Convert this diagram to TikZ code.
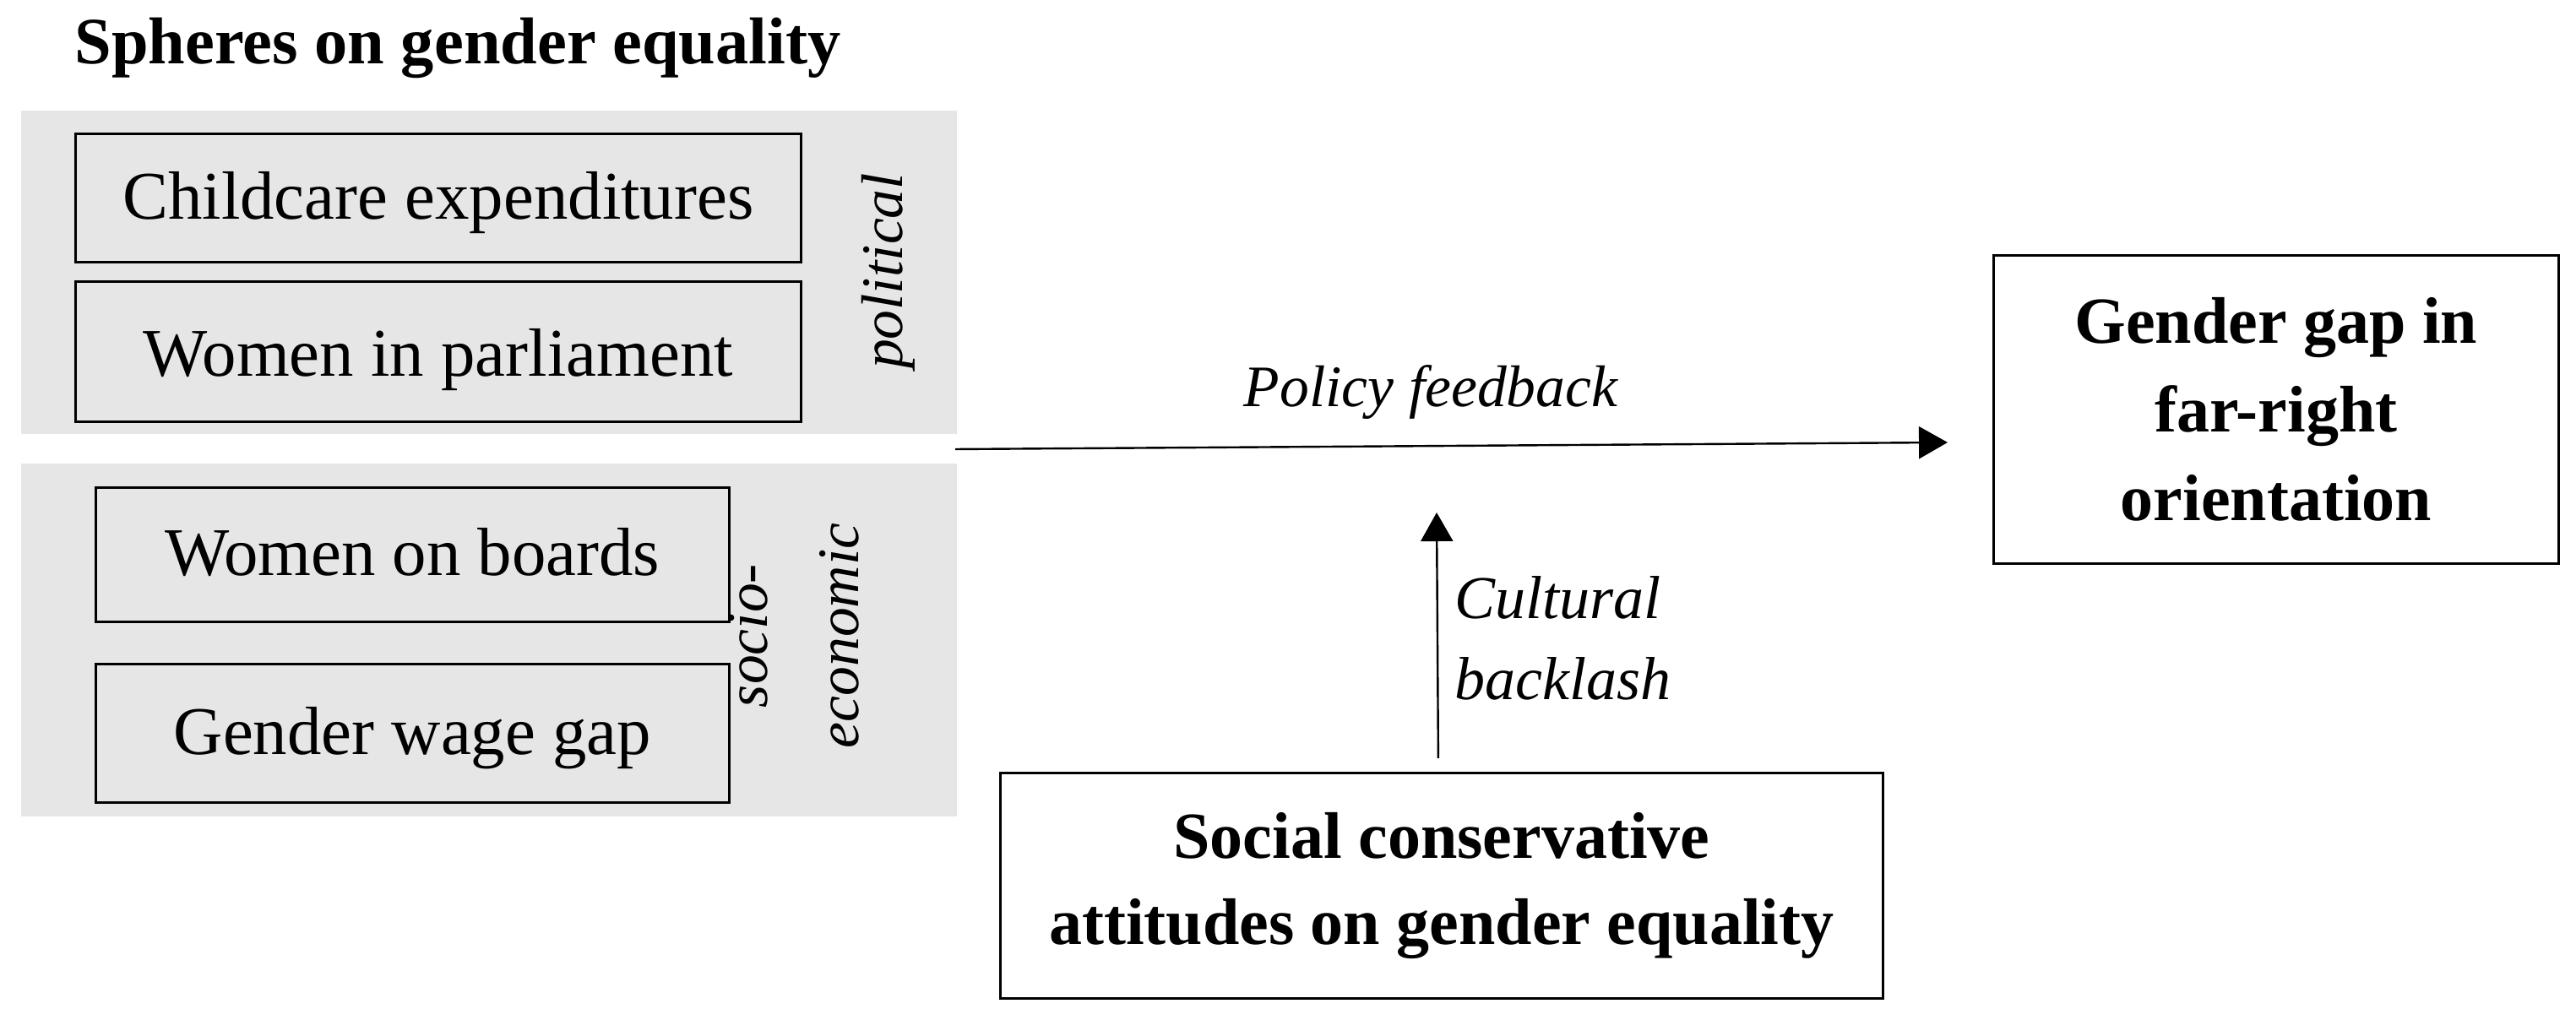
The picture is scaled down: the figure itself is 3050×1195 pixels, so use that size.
\documentclass[tikz,border=0pt]{standalone}
\usepackage{fontspec}
\setmainfont{Liberation Serif}
\usetikzlibrary{arrows.meta,calc}
\definecolor{spheregray}{RGB}{230,230,230}
\begin{document}
\begin{tikzpicture}[x=0.25pt,y=-0.25pt,
  sphere/.style={fill=spheregray, draw=none, inner sep=0pt, anchor=north west},
  itembox/.style={draw=black, line width=0.7pt, fill=spheregray, inner sep=0pt, anchor=north west,
    font=\fontsize{20.2}{24}\selectfont, text height=13.5pt, text depth=1pt},
  mainbox/.style={draw=black, line width=0.7pt, fill=white, inner sep=0pt, anchor=north west, align=center},
  sidelabel/.style={inner sep=0pt, font=\fontsize{17.4}{27}\selectfont\itshape},
  arrowlabel/.style={inner sep=0pt, font=\fontsize{17.4}{24}\selectfont\itshape},
  conn/.style={line width=0.6pt, -{Triangle[length=8.5pt,width=9.5pt]}}
]
\useasboundingbox (0,0) rectangle (3050,1195);

% title
\node[inner sep=0pt, anchor=base west, font=\fontsize{19.6}{22}\selectfont\bfseries] (title) at (88,76) {Spheres on gender equality};

% sphere panels
\node[sphere, minimum width=277pt, minimum height=95.75pt] (polsph) at (24,130) {};
\node[sphere, minimum width=277pt, minimum height=104.5pt] (socsph) at (24,548) {};

% indicator boxes
\node[itembox, minimum width=214.75pt, minimum height=38pt] (childcare) at (88,157) {Childcare expenditures};
\node[itembox, minimum width=214.75pt, minimum height=41.5pt, text height=15.5pt] (parliament) at (88,332) {Women in parliament};
\node[itembox, minimum width=187.5pt, minimum height=39.75pt] (boards) at (112,576) {Women on boards};
\node[itembox, minimum width=187.5pt, minimum height=41pt] (wagegap) at (112,785) {Gender wage gap};

% sphere labels
\node[sidelabel, rotate=90, anchor=base] (political) at (1068,321) {political};
\node[sidelabel, rotate=90, align=center] (socioeco) at (940,753) {socio-\\economic};

% outcome and attitude boxes
\node[mainbox, minimum width=167.25pt, minimum height=91.25pt,
  font=\fontsize{19.5}{26.25}\selectfont\bfseries] (gendergap) at (2359,301) {Gender gap in\\far-right\\orientation};
\node[mainbox, minimum width=261.25pt, minimum height=66.75pt,
  font=\fontsize{19.5}{25.5}\selectfont\bfseries] (attitudes) at (1183,914) {Social conservative\\attitudes on gender equality};

% connectors
\coordinate (pfstart) at (1131,532);
\coordinate (pfend) at (2306,524);
\draw[conn] (pfstart) -- (pfend);
\node[arrowlabel, anchor=base] (policy) at (1694,482) {Policy feedback};

\coordinate (cbstart) at ($(attitudes.north)+(-4,-16)$);
\coordinate (cbend) at (1701,607);
\draw[conn] (cbstart) -- (cbend);
\node[arrowlabel, font=\fontsize{18}{24}\selectfont\itshape, align=left, anchor=west] (cultural) at (1722,756) {Cultural\\backlash};
\end{tikzpicture}
\end{document}
